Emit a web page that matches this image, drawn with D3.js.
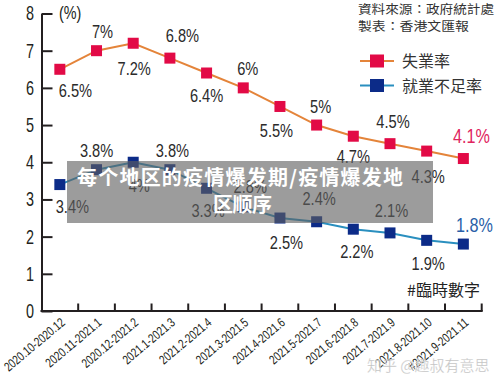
<!DOCTYPE html>
<html><head><meta charset="utf-8">
<script src="https://cdn.jsdelivr.net/npm/d3@7"></script>
<style>
html,body{margin:0;padding:0;background:#fff;}
svg{display:block;}
</style></head>
<body>
<svg id="chart" width="500" height="385"></svg>
<script>
// ---- data ----
const categories = ["2020.10-2020.12","2020.11-2021.1","2020.12-2021.2","2021.1-2021.3","2021.2-2021.4","2021.3-2021.5","2021.4-2021.6","2021.5-2021.7","2021.6-2021.8","2021.7-2021.9","2021.8-2021.10","#2021.9-2021.11"];
const unemployment = [6.5, 7, 7.2, 6.8, 6.4, 6, 5.5, 5, 4.7, 4.5, 4.3, 4.1];
const underemployment = [3.4, 3.8, 4, 3.8, 3.3, 2.8, 2.5, 2.4, 2.2, 2.1, 1.9, 1.8];
const yTicks = [0,1,2,3,4,5,6,7,8];
const seriesNames = ["失業率", "就業不足率"];
const sourceLines = ["資料來源：政府統計處", "製表：香港文匯報"];
const noteText = "#臨時數字";
const unitText = "(%)";
const bannerLines = ["每个地区的疫情爆发期/疫情爆发地", "区顺序"];
const watermark = "知乎 @趣叔有意思";

// ---- layout (label offsets relative to each point) ----
const unempLabelOff = [[15.5,28],[6,-12.5],[1,32],[12.5,-16],[0,29],[4.5,-13],[-3.5,31],[4,-12],[0,27],[3,-15.5],[1.5,32],[8,-15.5]];
const underLabelOff = [[12.5,28.5],[0,-12.5],[6,30],[2.5,-12.5],[1.5,29],[7,-14],[6.5,31],[2.5,-16.5],[3.5,29],[1.5,-16],[1.5,30],[11,-12]];

const svg = d3.select("#chart");
const sans = "'Liberation Sans',Arial,sans-serif";
const cjk = "'Noto Sans CJK TC','Noto Sans CJK SC',sans-serif";
const axisColor = "#231f20";
const redFill = "#e20a46", orangeLine = "#e4843a";
const blueFill = "#0c2b88", blueLine = "#2a8fbf";
const SX = 0.77; // horizontal condensing of Latin labels

const x = d3.scaleBand().domain(categories).range([41.5, 481.7]).padding(0);
const y = d3.scaleLinear().domain([0, 8]).range([311, 13.5]);
const cx = c => x(c) + x.bandwidth() / 2;

// y axis
const yAxis = d3.axisLeft(y).tickValues(yTicks).tickFormat(d3.format("d"))
  .tickSizeInner(-11).tickSizeOuter(0).tickPadding(7.5);
const gy = svg.append("g").attr("transform", "translate(41.5,0)").call(yAxis);
gy.select(".domain").attr("stroke", axisColor).attr("stroke-width", 2);
gy.selectAll(".tick line").attr("stroke", axisColor).attr("stroke-width", 2);
gy.selectAll(".tick text").attr("font-family", sans).attr("font-size", 20).attr("fill", axisColor)
  .attr("x", -7.5 / 0.72).attr("transform", "scale(0.72,1)");

// x axis
svg.append("line").attr("x1", x.range()[0] - 1).attr("x2", x.range()[1] + 1)
  .attr("y1", y(0)).attr("y2", y(0)).attr("stroke", axisColor).attr("stroke-width", 2);
svg.append("g").selectAll("line").data(categories).join("line")
  .attr("x1", d => x(d) + x.bandwidth()).attr("x2", d => x(d) + x.bandwidth())
  .attr("y1", y(0)).attr("y2", y(0) - 7.5)
  .attr("stroke", axisColor).attr("stroke-width", 2);
svg.append("g").selectAll("text").data(categories).join("text")
  .attr("transform", d => `translate(${cx(d) + 6},${y(0) + 13}) rotate(-40) scale(0.76,1)`)
  .attr("text-anchor", "end")
  .attr("font-family", sans).attr("font-size", 13).attr("fill", axisColor)
  .text(d => d);

// unit
svg.append("text").attr("transform", "translate(59,19) scale(0.8,1)").attr("font-family", sans)
  .attr("font-size", 18).attr("fill", axisColor).text(unitText);

// source
svg.append("g").selectAll("text").data(sourceLines).join("text")
  .attr("x", 358).attr("y", (d, i) => 14 + i * 16.5)
  .attr("font-family", cjk).attr("font-size", 12.5)
  .attr("textLength", (d, i) => i === 0 ? 136 : 111).attr("lengthAdjust", "spacingAndGlyphs")
  .attr("fill", "#333").text(d => d);

// legend
const legend = [{name: seriesNames[0], fill: redFill, line: orangeLine, yy: 61},
                {name: seriesNames[1], fill: blueFill, line: blueLine, yy: 85.5}];
const lg = svg.append("g").selectAll("g").data(legend).join("g");
lg.append("line").attr("x1", 360).attr("x2", 394).attr("y1", d => d.yy).attr("y2", d => d.yy)
  .attr("stroke", d => d.line).attr("stroke-width", 2);
lg.append("rect").attr("x", 370).attr("y", d => d.yy - 6.5).attr("width", 14).attr("height", 13)
  .attr("fill", d => d.fill);
lg.append("text").attr("x", 402).attr("y", d => d.yy + 6).attr("font-family", cjk)
  .attr("font-size", 16).attr("fill", "#333").text(d => d.name);

// series
function drawSeries(values, fill, lineColor, offs, lastColor) {
  const pts = values.map((v, i) => ({c: categories[i], v, i}));
  const line = d3.line().x(d => cx(d.c)).y(d => y(d.v));
  svg.append("path").datum(pts).attr("d", line).attr("fill", "none")
    .attr("stroke", lineColor).attr("stroke-width", 2);
  svg.append("g").selectAll("rect").data(pts).join("rect")
    .attr("x", d => cx(d.c) - 5.5).attr("y", d => y(d.v) - 5.5)
    .attr("width", 11).attr("height", 11).attr("fill", fill);
  svg.append("g").selectAll("text").data(pts).join("text")
    .attr("transform", d => `translate(${cx(d.c) + offs[d.i][0]},${y(d.v) + offs[d.i][1]}) scale(${SX},1)`)
    .attr("text-anchor", "middle").attr("font-family", sans)
    .attr("font-size", d => d.i === pts.length - 1 ? 21 : 19)
    .attr("fill", d => d.i === pts.length - 1 ? lastColor : "#2b2b2b")
    .text(d => d3.format("~g")(d.v) + "%");
}
drawSeries(unemployment, redFill, orangeLine, unempLabelOff, "#e0245e");
drawSeries(underemployment, blueFill, blueLine, underLabelOff, "#2a5fa8");

// note
svg.append("text").attr("x", 407).attr("y", 296).attr("font-family", cjk)
  .attr("font-size", 16).attr("fill", "#222").text(noteText);

// banner overlay
svg.append("rect").attr("x", 67).attr("y", 161).attr("width", 366).attr("height", 62)
  .attr("fill", "rgba(95,95,95,0.62)");
svg.append("g").selectAll("text").data(bannerLines).join("text")
  .attr("x", (d, i) => i === 0 ? 77 : 213).attr("y", (d, i) => 185 + i * 27)
  .attr("font-family", cjk).attr("font-weight", "bold").attr("font-size", 20)
  .attr("textLength", (d, i) => i === 0 ? 326 : 59).attr("lengthAdjust", "spacing")
  .attr("fill", "#fff").text(d => d);

// watermark
svg.append("text").attr("x", 367).attr("y", 371).attr("font-family", cjk)
  .attr("font-size", 15).attr("fill", "rgba(170,170,170,0.85)")
  .attr("stroke", "rgba(255,255,255,0.6)").attr("stroke-width", 0.6)
  .text(watermark);
</script>
</body></html>
